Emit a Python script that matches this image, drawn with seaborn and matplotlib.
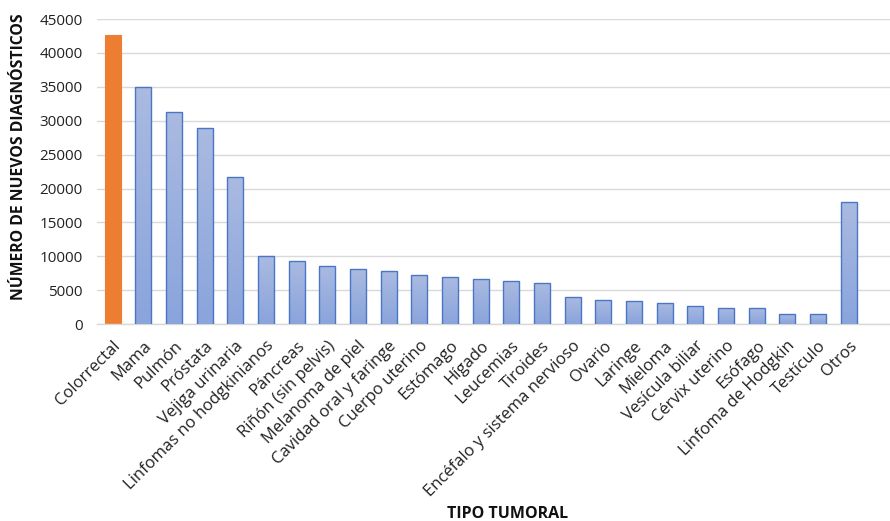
import numpy as np
import pandas as pd
import matplotlib
matplotlib.use("Agg")
import matplotlib.pyplot as plt
from matplotlib.colors import LinearSegmentedColormap
import seaborn as sns

# Nuevos diagnósticos por tipo tumoral
categorias = [
    "Colorrectal", "Mama", "Pulmón", "Próstata", "Vejiga urinaria",
    "Linfomas no hodgkinianos", "Páncreas", "Riñón (sin pelvis)",
    "Melanoma de piel", "Cavidad oral y faringe", "Cuerpo uterino",
    "Estómago", "Hígado", "Leucemias", "Tiroides",
    "Encéfalo y sistema nervioso", "Ovario", "Laringe", "Mieloma",
    "Vesícula biliar", "Cérvix uterino", "Esófago", "Linfoma de Hodgkin",
    "Testículo", "Otros",
]
diagnosticos = [
    42700, 35000, 31300, 29000, 21700,
    10000, 9300, 8600, 8100, 7800, 7200,
    6900, 6700, 6400, 6100,
    4000, 3600, 3400, 3100,
    2700, 2400, 2300, 1500,
    1500, 18000,
]
destacado = "Colorrectal"
yticks = [0, 5000, 10000, 15000, 20000, 25000, 30000, 35000, 40000, 45000]

NARANJA = "#ed7d31"
AZUL_BORDE = "#4a76c6"
AZUL_ARRIBA = "#aabae1"
AZUL_ABAJO = "#8aa4dc"

df = pd.DataFrame({"tipo": categorias, "n": diagnosticos})
paleta = {c: (NARANJA if c == destacado else AZUL_ABAJO) for c in categorias}

sns.set_theme(style="white")
plt.rcParams["font.family"] = ["Open Sans", "DejaVu Sans"]

fig = plt.figure(figsize=(8.9, 5.21), dpi=100)
ax = fig.add_axes([0.1087, 0.378, 0.8913, 0.5854])

sns.barplot(data=df, x="tipo", y="n", hue="tipo", palette=paleta,
            legend=False, width=0.52, saturation=1, ax=ax, zorder=2)

# Relleno degradado para las barras azules
grad = LinearSegmentedColormap.from_list("grad", [AZUL_ABAJO, AZUL_ARRIBA])
for patch, cat in zip(ax.patches, categorias):
    if cat == destacado:
        patch.set_edgecolor(NARANJA)
        patch.set_linewidth(0.8)
        continue
    x0, y0 = patch.get_x(), patch.get_y()
    w, h = patch.get_width(), patch.get_height()
    img = ax.imshow(np.linspace(0, 1, 64).reshape(-1, 1), cmap=grad,
                    origin="lower", extent=(x0, x0 + w, y0, y0 + h),
                    aspect="auto", zorder=2, interpolation="bilinear")
    img.set_clip_path(patch)
    patch.set_facecolor("none")
    patch.set_edgecolor(AZUL_BORDE)
    patch.set_linewidth(1.0)
    patch.set_zorder(3)

ax.set_xlim(-0.52, 25.35)
ax.set_ylim(0, 45000)
ax.set_yticks(yticks)
ax.set_yticklabels([str(v) for v in yticks])
ax.grid(axis="y", color="#d9d9d9", linewidth=1.0, zorder=0)
ax.grid(axis="x", visible=False)
for s in ["top", "right", "left"]:
    ax.spines[s].set_visible(False)
ax.spines["bottom"].set_color("#d9d9d9")
ax.spines["bottom"].set_linewidth(1.0)

ax.tick_params(axis="y", length=0, pad=10, labelsize=11, labelcolor="#222222")
ax.tick_params(axis="x", length=0, pad=10, labelsize=12, labelcolor="#222222")
ax.set_xticks(range(len(categorias)))
ax.set_xticklabels(categorias, rotation=45, ha="right", va="top",
                   rotation_mode="anchor")

ax.set_xlabel("")
ax.set_ylabel("")
fig.text(19 / 890, 1 - 157 / 521, "NÚMERO DE NUEVOS DIAGNÓSTICOS",
         rotation=90, ha="center", va="center", fontsize=11.3,
         fontweight="bold", color="#111111")
fig.text(508 / 890, 1 - 518 / 521, "TIPO TUMORAL", ha="center",
         va="baseline", fontsize=11.5, fontweight="bold", color="#111111")

fig.savefig("out.png", dpi=100, facecolor="white")
